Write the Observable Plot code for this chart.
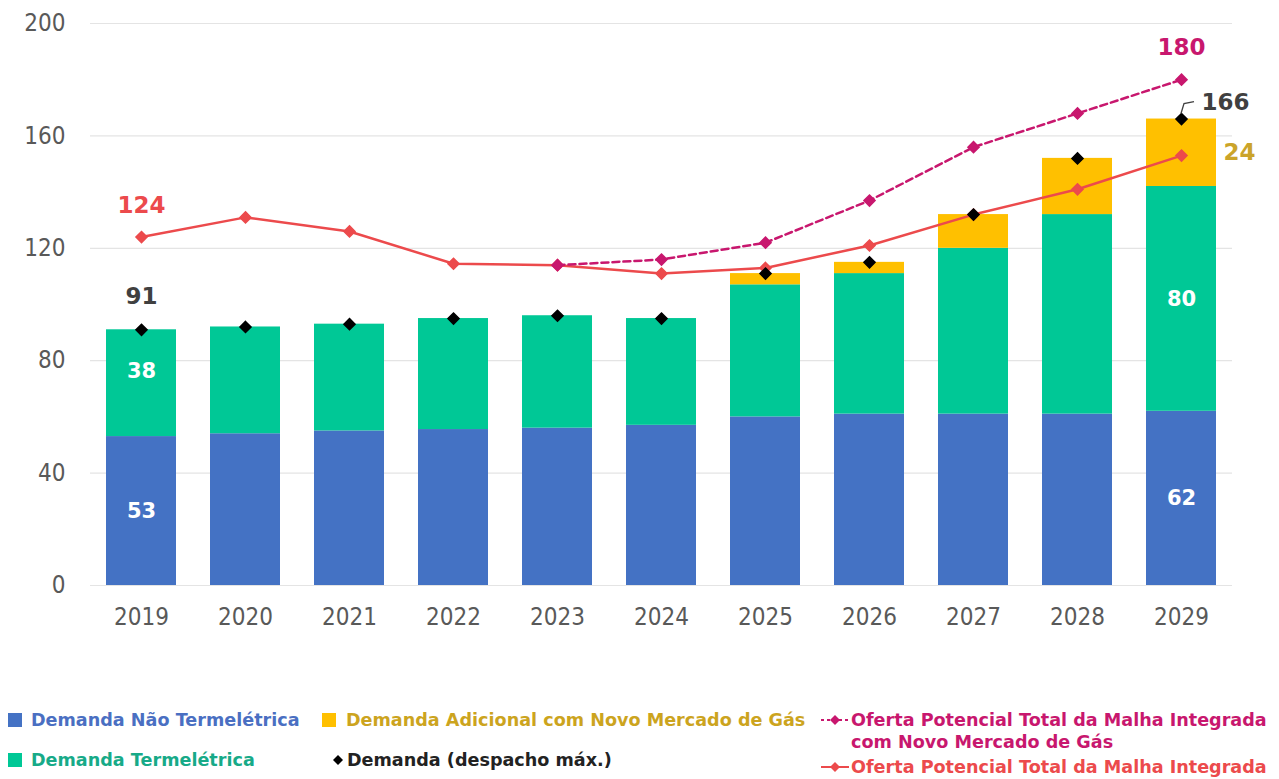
<!DOCTYPE html>
<html>
<head>
<meta charset="utf-8">
<script src="https://cdn.jsdelivr.net/npm/d3@7"></script>
<script src="https://cdn.jsdelivr.net/npm/@observablehq/plot@0.6"></script>
<style>
  html, body { margin: 0; padding: 0; background: #fff; }
  #wrap { position: relative; width: 1279px; height: 779px; overflow: hidden; }
  #chart { position: absolute; left: 0; top: 0; }
  .lg { position: absolute; font-family: "DejaVu Sans", sans-serif; font-weight: bold; font-size: 17.6px; line-height: 22px; white-space: nowrap; }
  .sw { position: absolute; width: 14px; height: 14px; }
  .sym { position: absolute; }
</style>
</head>
<body>
<div id="wrap">
  <div id="chart"></div>
</div>
<script>
// ---- data ----
const years = ["2019","2020","2021","2022","2023","2024","2025","2026","2027","2028","2029"];
const demandaNaoTermo = [53, 54, 55, 55.5, 56, 57, 60, 61, 61, 61, 62];
const demandaTermo    = [38, 38, 38, 39.5, 40, 38, 47, 50, 59, 71, 80];
const demandaAdicional = [0, 0, 0, 0, 0, 0, 4, 4, 12, 20, 24];
const demandaMax = [91, 92, 93, 95, 96, 95, 111, 115, 132, 152, 166];
const ofertaMalha = [124, 131, 126, 114.5, 114, 111, 113, 121, 132, 141, 153];
const ofertaNovoMercado = [null, null, null, null, 114, 116, 122, 137, 156, 168, 180];
const yTicks = [0, 40, 80, 120, 160, 200];

const seriesNames = ["Demanda Não Termelétrica", "Demanda Termelétrica", "Demanda Adicional com Novo Mercado de Gás"];
const seriesColors = ["#4472C4", "#00C896", "#FFC000"];
const seriesValues = [demandaNaoTermo, demandaTermo, demandaAdicional];

const legendNames = {
  novo: ["Oferta Potencial Total da Malha Integrada", "com Novo Mercado de Gás"],
  malha: "Oferta Potencial Total da Malha Integrada",
  demanda: "Demanda (despacho máx.)"
};

const colRed = "#EC4A4C";
const colMagenta = "#C8176E";

// ---- tables built from arrays ----
const bars = [];
seriesNames.forEach((s, si) => years.forEach((y, i) => {
  bars.push({year: y, series: s, order: si, value: seriesValues[si][i]});
}));
const demandaRows = years.map((y, i) => ({year: y, value: demandaMax[i]}));
const malhaRows = years.map((y, i) => ({year: y, value: ofertaMalha[i]}));
const novoRows = years.map((y, i) => ({year: y, value: ofertaNovoMercado[i]})).filter(d => d.value != null);

// segment labels (first and last year)
const first = 0, last = years.length - 1;
const segLabelsMid = [
  {year: years[first], y: demandaNaoTermo[first] / 2, text: String(demandaNaoTermo[first])},
  {year: years[last], y: demandaNaoTermo[last] / 2, text: String(demandaNaoTermo[last])},
  {year: years[last], y: demandaNaoTermo[last] + demandaTermo[last] / 2, text: String(demandaTermo[last])}
];
const segLabelsUpper = [
  {year: years[first], y: demandaNaoTermo[first] + demandaTermo[first] / 2, text: String(demandaTermo[first])}
];

const boldFont = "DejaVu Sans";

// leader line mark for the 166 label
function leader(index, scales) {
  const x = scales.x;
  const bw = typeof x.bandwidth === "function" ? x.bandwidth() : 0;
  const cx = x(years[last]) + bw / 2;
  const cy = scales.y(demandaMax[last]);
  const g = d3.create("svg:path")
    .attr("d", `M${cx},${cy - 5} L${cx + 3},${cy - 15} L${cx + 13},${cy - 17}`)
    .attr("fill", "none")
    .attr("stroke", "#404040")
    .attr("stroke-width", 1.3);
  return g.node();
}

const plot = Plot.plot({
  width: 1279,
  height: 650,
  marginTop: 23,
  marginBottom: 65,
  marginLeft: 90,
  marginRight: 47,
  style: {fontFamily: "'DejaVu Sans Condensed', 'DejaVu Sans', sans-serif", fontSize: "24px", color: "#595959", background: "#fff"},
  x: {domain: years, paddingInner: 0.33, paddingOuter: 0.145, tickSize: 0, tickPadding: 22, label: null},
  y: {domain: [0, 200], ticks: yTicks, tickSize: 0, tickPadding: 25, label: null},
  color: {domain: seriesNames, range: seriesColors},
  marks: [
    Plot.ruleY(yTicks, {stroke: "#e4e4e4", strokeWidth: 1.2}),
    Plot.barY(bars, Plot.stackY({x: "year", y: "value", fill: "series", order: "order"})),
    Plot.line(malhaRows, {x: "year", y: "value", stroke: colRed, strokeWidth: 2.5}),
    Plot.dot(malhaRows, {x: "year", y: "value", symbol: "diamond2", r: 5, fill: colRed, stroke: colRed}),
    Plot.line(novoRows, {x: "year", y: "value", stroke: colMagenta, strokeWidth: 2.5, strokeDasharray: "7,4"}),
    Plot.dot(novoRows, {x: "year", y: "value", symbol: "diamond2", r: 5, fill: colMagenta, stroke: colMagenta}),
    Plot.dot(demandaRows, {x: "year", y: "value", symbol: "diamond2", r: 5, fill: "#000", stroke: "#000"}),
    Plot.text(segLabelsMid, {x: "year", y: "y", text: "text", fill: "#fff", fontWeight: "bold", fontSize: 21, fontFamily: boldFont}),
    Plot.text(segLabelsUpper, {x: "year", y: "y", text: "text", dy: -12, fill: "#fff", fontWeight: "bold", fontSize: 21, fontFamily: boldFont}),
    Plot.text([{year: years[first], y: ofertaMalha[first]}], {x: "year", y: "y", text: d => String(d.y), dy: -31, fill: colRed, fontWeight: "bold", fontSize: 23, fontFamily: boldFont}),
    Plot.text([{year: years[first], y: demandaMax[first]}], {x: "year", y: "y", text: d => String(d.y), dy: -33, fill: "#404040", fontWeight: "bold", fontSize: 23, fontFamily: boldFont}),
    Plot.text([{year: years[last], y: ofertaNovoMercado[last]}], {x: "year", y: "y", text: d => String(d.y), dy: -32, fill: colMagenta, fontWeight: "bold", fontSize: 23, fontFamily: boldFont}),
    Plot.text([{year: years[last], y: demandaMax[last]}], {x: "year", y: "y", text: d => String(d.y), dx: 20, dy: -16, textAnchor: "start", fill: "#404040", fontWeight: "bold", fontSize: 23, fontFamily: boldFont}),
    Plot.text([{year: years[last], y: demandaNaoTermo[last] + demandaTermo[last] + demandaAdicional[last] / 2, t: demandaAdicional[last]}], {x: "year", y: "y", text: d => String(d.t), dx: 58, fill: "#CBA42A", fontWeight: "bold", fontSize: 23, fontFamily: boldFont}),
    leader
  ]
});
document.getElementById("chart").appendChild(plot);

// ---- legend (HTML) ----
const wrap = document.getElementById("wrap");
function addText(txt, left, cy, color) {
  const d = document.createElement("div");
  d.className = "lg";
  d.textContent = txt;
  d.style.left = left + "px";
  d.style.top = (cy - 11) + "px";
  d.style.color = color;
  wrap.appendChild(d);
}
function addSwatch(color, left, cy) {
  const d = document.createElement("div");
  d.className = "sw";
  d.style.left = left + "px";
  d.style.top = (cy - 7) + "px";
  d.style.background = color;
  wrap.appendChild(d);
}
function addSym(left, cy, color, dashed, withLine) {
  const svg = d3.create("svg").attr("class", "sym").attr("width", 30).attr("height", 14)
    .style("left", left + "px").style("top", (cy - 7) + "px");
  if (withLine) {
    svg.append("line").attr("x1", 1).attr("x2", 29).attr("y1", 7).attr("y2", 7)
      .attr("stroke", color).attr("stroke-width", 2).attr("stroke-dasharray", dashed ? "3,3" : null);
  }
  svg.append("path").attr("d", "M15,2 L20,7 L15,12 L10,7 Z").attr("fill", color);
  wrap.appendChild(svg.node());
}
addSwatch(seriesColors[0], 8, 720);
addText(seriesNames[0], 31, 720, "#4A6FC2");
addSwatch(seriesColors[2], 322, 720);
addText(seriesNames[2], 346, 720, "#CCA41E");
addSym(820, 720, colMagenta, true, true);
addText(legendNames.novo[0], 851, 720, colMagenta);
addText(legendNames.novo[1], 851, 742, colMagenta);
addSwatch(seriesColors[1], 8, 760);
addText(seriesNames[1], 31, 760, "#17AA88");
addSym(323, 760, "#000", false, false);
addText(legendNames.demanda, 347, 760, "#222");
addSym(820, 767, colRed, false, true);
addText(legendNames.malha, 851, 767, colRed);
</script>
</body>
</html>
